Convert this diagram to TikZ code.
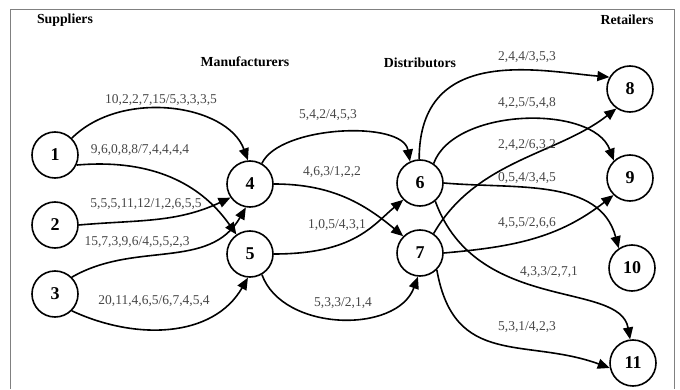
\documentclass[tikz,border=0pt]{standalone}
\usepackage{fontspec}
\setmainfont{Liberation Serif}
\usetikzlibrary{arrows.meta}
\begin{document}
\begin{tikzpicture}[x=1pt,y=1pt,
  nd/.style={circle,draw,line width=1.6pt,minimum size=46pt,inner sep=0pt,font=\fontsize{18}{18}\selectfont\bfseries},
  hd/.style={font=\fontsize{13.8}{14}\selectfont\bfseries,inner sep=0pt},
  lb/.style={font=\fontsize{13.5}{14}\selectfont,text=black!72,inner sep=0pt},
  ed/.style={line width=1.6pt,-{Triangle[length=12pt,width=10pt]}}]
\useasboundingbox (0,0) rectangle (680,389);
\draw[gray,line width=0.8pt] (10,0) -- (10,380) -- (674,380) -- (674,0);
% headings
\node[hd] (hs) at (65,369) {Suppliers};
\node[hd] (hm) at (245,327) {Manufacturers};
\node[hd] (hdd) at (420,326) {Distributors};
\node[hd] (hr) at (627,369) {Retailers};
% nodes
\node[nd] (n1) at (55,234) {1};
\node[nd] (n2) at (55,164) {2};
\node[nd] (n3) at (55,95) {3};
\node[nd] (n4) at (250,205) {4};
\node[nd] (n5) at (250,135) {5};
\node[nd] (n6) at (420,206) {6};
\node[nd] (n7) at (420,136) {7};
\node[nd] (n8) at (630,300) {8};
\node[nd] (n9) at (630,211) {9};
\node[nd] (n10) at (632,121) {10};
\node[nd] (n11) at (633,26) {11};
% edges
\draw[ed] (n1.45) to[out=45,in=110,out distance=70pt,in distance=60pt] (n4.95);
\draw[ed] (n1.-25) to[out=5,in=125] (n5.125);
\draw[ed] (n2.east) to[out=5,in=205] (n4.215);
\draw[ed] (n3.45) to[out=30,in=240] (n4.260);
\draw[ed] (n3.-45) to[out=-25,in=240] (n5.265);
\draw[ed] (n4.60) to[out=65,in=100,out distance=42pt,in distance=42pt] (n6.115);
\draw[ed] (n4.east) to[out=0,in=140] (n7.135);
\draw[ed] (n5.east) to[out=0,in=220,out distance=80pt,in distance=40pt] (n6.225);
\draw[ed] (n5.-60) to[out=-70,in=250] (n7.265);
\draw[ed] (n6.92) to[out=90,in=175,out distance=115pt,in distance=70pt] (n8.150);
\draw[ed] (n6.55) to[out=70,in=110,out distance=60pt,in distance=60pt] (n9.133);
\draw[ed] (n6.east) to[out=-5,in=105] (n10.124);
\draw[ed] (n6.-50) to[out=-70,in=100,out distance=120pt,in distance=60pt] (n11.97);
\draw[ed] (n7.55) to[out=60,in=218,out distance=85pt,in distance=75pt] (n8.235);
\draw[ed] (n7.east) to[out=5,in=218] (n9.226);
\draw[ed] (n7.-45) to[out=-80,in=160,out distance=100pt,in distance=90pt] (n11.192);
% labels
\node[lb] (l14) at (161,289) {10,2,2,7,15/5,3,3,3,5};
\node[lb] (l15) at (140,239) {9,6,0,8,8/7,4,4,4,4};
\node[lb] (l24) at (146,185) {5,5,5,11,12/1,2,6,5,5};
\node[lb] (l34) at (137,147) {15,7,3,9,6/4,5,5,2,3};
\node[lb] (l35) at (154,88) {20,11,4,6,5/6,7,4,5,4};
\node[lb] (l46) at (328,274) {5,4,2/4,5,3};
\node[lb] (l47) at (332,217) {4,6,3/1,2,2};
\node[lb] (l56) at (337,164) {1,0,5/4,3,1};
\node[lb] (l57) at (343,86) {5,3,3/2,1,4};
\node[lb] (l68) at (527,332) {2,4,4/3,5,3};
\node[lb] (l69) at (527,286) {4,2,5/5,4,8};
\node[lb] (l78) at (527,244) {2,4,2/6,3,2};
\node[lb] (l610) at (527,211) {0,5,4/3,4,5};
\node[lb] (l79) at (527,166) {4,5,5/2,6,6};
\node[lb] (l611) at (549,117) {4,3,3/2,7,1};
\node[lb] (l711) at (527,62) {5,3,1/4,2,3};
\end{tikzpicture}
\end{document}
